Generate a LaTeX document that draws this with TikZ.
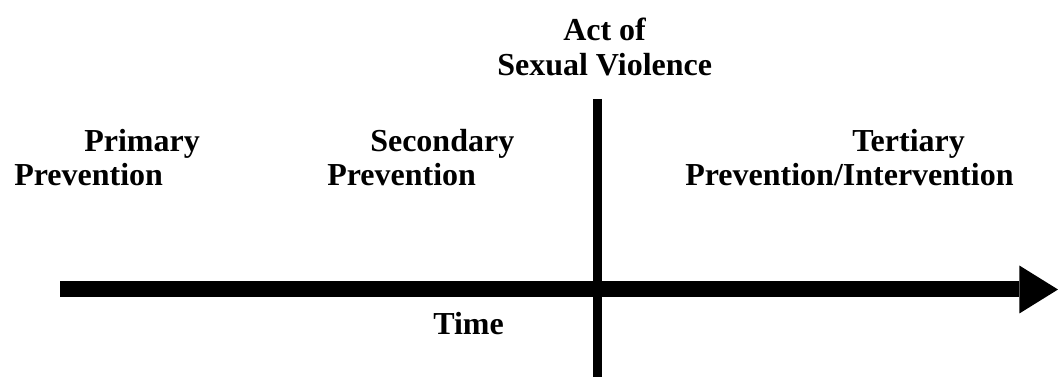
\documentclass[tikz,border=0pt]{standalone}
\usepackage{fontspec}
\setmainfont{Liberation Serif}
\usetikzlibrary{arrows.meta}

\begin{document}
\begin{tikzpicture}[
		x = 0.75pt,
		y = -0.75pt,
		lbl/.style = {
			font = \fontsize{24}{26}\selectfont\bfseries,
			inner sep = 0,
			anchor = base west
		},
		timeline/.style = {
			line width = 12pt,
			-{Triangle[length = 29pt, width = 36pt, line width = 0pt]}
		},
		event/.style = {
			line width = 6.75pt
		}
	]
	\useasboundingbox (0, 0) rectangle (1058, 377);

	\coordinate (tstart) at (60, 289.5);
	\coordinate (tend) at (1058, 289.5);
	\coordinate (etop) at (597.5, 99);
	\coordinate (ebot) at (597.5, 377);

	\node [lbl] (act1) at (563, 41) {Act of};
	\node [lbl] (act2) at (497, 76) {Sexual Violence};

	\node [lbl] (prim1) at (84, 152) {Primary};
	\node [lbl] (prim2) at (14, 186) {Prevention};

	\node [lbl] (sec1) at (370, 152) {Secondary};
	\node [lbl] (sec2) at (327, 186) {Prevention};

	\node [lbl] (ter1) at (852, 152) {Tertiary};
	\node [lbl] (ter2) at (685, 186) {Prevention/Intervention};

	\node [lbl] (time) at (433, 335) {Time};

	\draw [timeline] (tstart) -- (tend);
	\draw [event] (etop) -- (ebot);
\end{tikzpicture}
\end{document}
